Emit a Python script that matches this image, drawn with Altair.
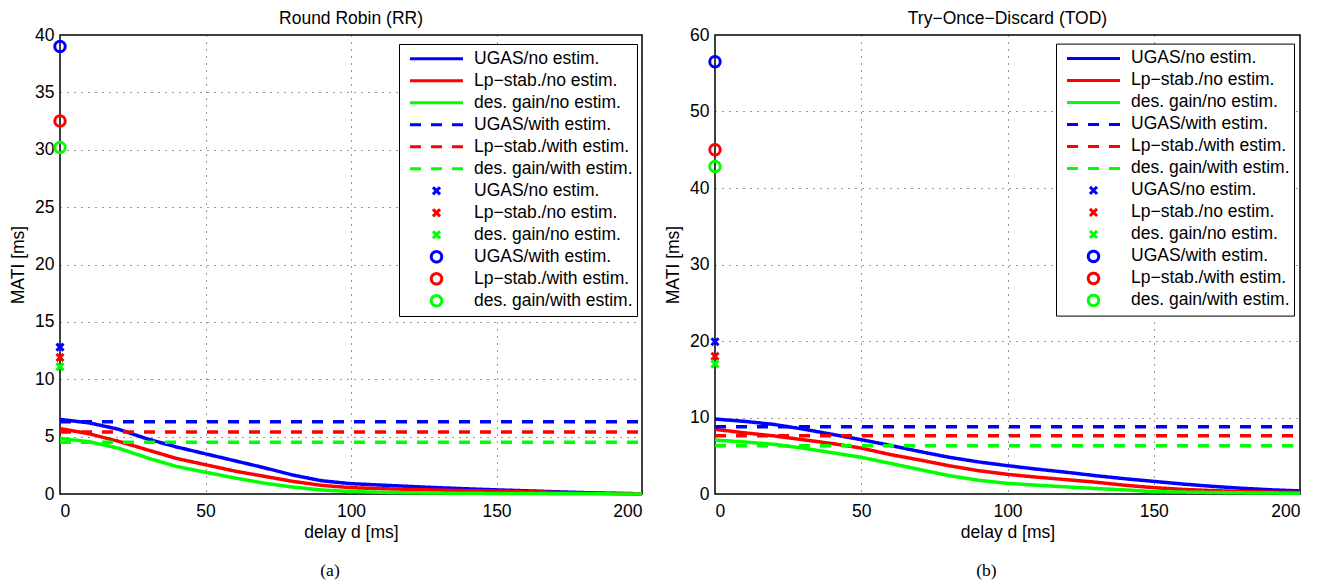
import json
import altair as alt
import pandas as pd

FONT = "Liberation Sans"
SERIF = "Liberation Serif"

# delay grid [ms]
D = [0, 10, 20, 30, 40, 50, 60, 70, 80, 90, 100, 110, 120, 130, 140, 150, 160, 170, 180, 190, 200]

# ---- Round Robin (RR) ----
RR_UGAS_NO = [6.5, 6.2, 5.65, 4.8, 4.1, 3.5, 2.9, 2.3, 1.65, 1.15, 0.9, 0.78, 0.66, 0.55, 0.45, 0.36, 0.28, 0.2, 0.12, 0.06, 0.02]
RR_LP_NO = [5.7, 5.25, 4.6, 3.85, 3.1, 2.55, 2.0, 1.55, 1.1, 0.75, 0.55, 0.47, 0.4, 0.34, 0.29, 0.25, 0.2, 0.14, 0.08, 0.04, 0.02]
RR_DES_NO = [4.85, 4.55, 4.0, 3.15, 2.4, 1.9, 1.4, 0.95, 0.6, 0.35, 0.22, 0.15, 0.11, 0.08, 0.06, 0.05, 0.04, 0.03, 0.02, 0.01, 0.01]
RR_WITH = [6.3, 5.4, 4.5]            # UGAS, Lp-stab., des. gain (with estim.)
RR_X = [12.8, 11.9, 11.1]            # no estim., d = 0
RR_O = [39.0, 32.5, 30.2]            # with estim., d = 0

# ---- Try-Once-Discard (TOD) ----
TOD_UGAS_NO = [9.8, 9.5, 9.1, 8.5, 7.8, 7.1, 6.35, 5.55, 4.8, 4.2, 3.7, 3.25, 2.85, 2.4, 2.0, 1.65, 1.3, 1.0, 0.75, 0.55, 0.4]
TOD_LP_NO = [8.45, 8.0, 7.6, 7.1, 6.6, 6.0, 5.15, 4.45, 3.7, 3.05, 2.57, 2.2, 1.88, 1.55, 1.15, 0.83, 0.6, 0.45, 0.33, 0.25, 0.2]
TOD_DES_NO = [7.05, 6.8, 6.5, 6.0, 5.4, 4.8, 4.0, 3.2, 2.4, 1.8, 1.39, 1.15, 0.93, 0.72, 0.55, 0.3, 0.25, 0.2, 0.15, 0.12, 0.1]
TOD_WITH = [8.8, 7.6, 6.3]
TOD_X = [19.9, 18.0, 17.0]
TOD_O = [56.5, 45.0, 42.8]

KEYS = ["01", "02", "03", "04", "05", "06", "07", "08", "09", "10", "11", "12"]
LABELS = ["UGAS/no estim.", "Lp\u2212stab./no estim.", "des. gain/no estim.",
          "UGAS/with estim.", "Lp\u2212stab./with estim.", "des. gain/with estim.",
          "UGAS/no estim.", "Lp\u2212stab./no estim.", "des. gain/no estim.",
          "UGAS/with estim.", "Lp\u2212stab./with estim.", "des. gain/with estim."]
COLORS = ["#0000ff", "#ff0000", "#00ff00"] * 4
XPATH = "M-1,-1L1,1M-1,1L1,-1"
DASHES = [[1, 0]] * 3 + [[11, 10]] * 3 + [[1, 0]] * 6
SHAPES = ["stroke"] * 6 + [XPATH] * 3 + ["circle"] * 3
SIZES = [2809] * 6 + [50] * 3 + [110] * 3

LABEL_EXPR = "%s[indexof(%s, datum.value)]" % (json.dumps(LABELS, ensure_ascii=False), json.dumps(KEYS))


def panel(title, caption, solid, with_vals, xs, os, ymax, ystep, legx, legy, width, height):
    rows = []
    for k, vals in zip(KEYS[:3], solid):
        for d, v in zip(D, vals):
            rows.append({"d": d, "v": v, "s": k})
    for k, v in zip(KEYS[3:6], with_vals):
        for d in (D[0], D[-1]):
            rows.append({"d": d, "v": v, "s": k})
    line_df = pd.DataFrame(rows)
    pt_df = pd.DataFrame([{"d": 0, "v": v, "s": k} for k, v in zip(KEYS[6:], xs + os)])

    legend = alt.Legend(
        title=None, orient="none", legendX=legx, legendY=legy,
        labelExpr=LABEL_EXPR, labelFont=FONT, labelFontSize=17.5, labelColor="black",
        labelLimit=400, labelOffset=9.5, symbolOffset=5.5, symbolStrokeWidth=3,
        symbolFillColor="transparent", symbolOpacity=1,
        clipHeight=21.6, rowPadding=0, padding=4, strokeColor="black",
        fillColor="white", cornerRadius=0,
    )
    color_scale = alt.Scale(domain=KEYS, range=COLORS)
    xax = alt.Axis(title="delay d [ms]", values=[0, 50, 100, 150, 200], grid=True,
                   ticks=False, domain=False, labelPadding=8, titlePadding=4)
    yax = alt.Axis(title="MATI [ms]", values=list(range(0, ymax + 1, ystep)), grid=True,
                   ticks=False, domain=False, labelPadding=6, titlePadding=7.5)
    xenc = alt.X("d:Q", scale=alt.Scale(domain=[0, 200], nice=False), axis=xax)
    yenc = alt.Y("v:Q", scale=alt.Scale(domain=[0, ymax], nice=False), axis=yax)

    lines = alt.Chart(line_df).mark_line(strokeWidth=3.5, strokeCap="butt", clip=False).encode(
        x=xenc, y=yenc,
        color=alt.Color("s:N", scale=color_scale, legend=legend),
        strokeDash=alt.StrokeDash("s:N", scale=alt.Scale(domain=KEYS, range=DASHES), legend=legend),
    )
    points = alt.Chart(pt_df).mark_point(filled=False, strokeWidth=3, opacity=1, clip=False).encode(
        x=xenc, y=yenc,
        color=alt.Color("s:N", scale=color_scale, legend=legend),
        shape=alt.Shape("s:N", scale=alt.Scale(domain=KEYS, range=SHAPES), legend=legend),
        size=alt.Size("s:N", scale=alt.Scale(type="ordinal", domain=KEYS, range=SIZES), legend=legend),
    )
    cap = alt.Chart(pd.DataFrame({"c": [caption]})).mark_text(
        font=SERIF, fontSize=17.5, color="black", baseline="middle", align="center"
    ).encode(text="c:N", x=alt.value(width / 2 - 21), y=alt.value(height + 77))

    return alt.layer(lines, points, cap).properties(
        width=width, height=height,
        title=alt.TitleParams(text=title, font=FONT, fontSize=17.5, fontWeight="normal",
                              color="black", offset=-1, anchor="middle"),
    )


pa = panel("Round Robin (RR)", "(a)", [RR_UGAS_NO, RR_LP_NO, RR_DES_NO], RR_WITH, RR_X, RR_O,
           40, 5, 339, 9, 582, 459)
pb = panel("Try\u2212Once\u2212Discard (TOD)", "(b)", [TOD_UGAS_NO, TOD_LP_NO, TOD_DES_NO], TOD_WITH,
           TOD_X, TOD_O, 60, 10, 341, 8.6, 585, 459)

chart = alt.hconcat(pa, pb, spacing=13).resolve_scale(
    x="independent", y="independent", color="independent", shape="independent",
    strokeDash="independent", size="independent",
).resolve_legend(
    color="independent", shape="independent", strokeDash="independent", size="independent",
).properties(
    padding={"left": 0, "top": 0, "right": 0, "bottom": 0},
).configure_view(
    stroke="black", strokeWidth=1.5,
).configure_axis(
    labelFont=FONT, labelFontSize=17.5, labelColor="black",
    titleFont=FONT, titleFontSize=17.5, titleFontWeight="normal", titleColor="black",
    gridColor="#333333", gridDash=[1, 6], gridWidth=1, gridOpacity=1,
)

chart.save("out.html", embed_options={"renderer": "svg", "actions": False})
